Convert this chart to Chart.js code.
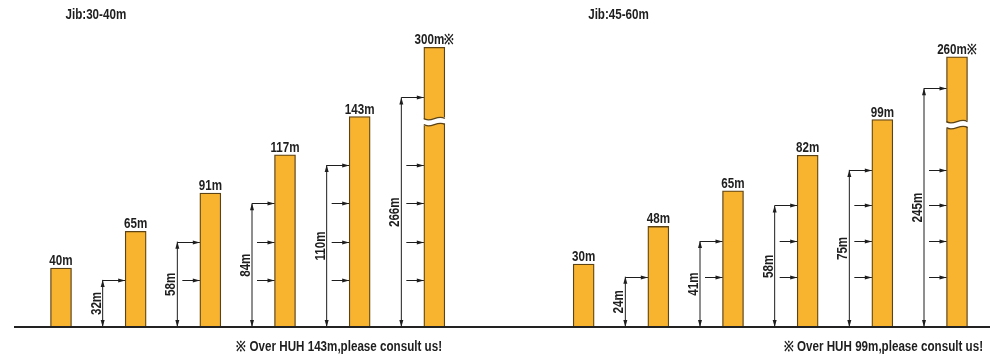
<!DOCTYPE html>
<html lang="en">
<head>
<meta charset="UTF-8">
<title>HUH por comprimento de lança</title>
<script src="https://cdn.jsdelivr.net/npm/chart.js"></script>
<style>
    body { margin: 0; background: #fff; }
    .quadro { position: relative; width: 990px; height: 357px; }
</style>
</head>
<body>
<div class="quadro"><canvas id="grafico"></canvas></div>

<script>
// altura sob o gancho (HUH) de cada configuração, em metros
const jibs = ['Jib:30-40m', 'Jib:45-60m'];
const huh30 = [40, 65, 91, 117, 143, 300];
const huh45 = [30, 48, 65, 82, 99, 260];
// cotas marcadas ao lado de cada torre
const cota30 = [32, 58, 84, 110, 266];
const cota45 = [24, 41, 58, 75, 245];
// acima disso: consultar
const limites = [143, 99];
const notas = ['※ Over HUH 143m,please consult us!', '※ Over HUH 99m,please consult us!'];

// trecho do eixo que fica escondido (quebra da barra alta)
const quebras = { yL: [143, 253], yR: [99, 230] };

const corBarra = '#F9B42F';
const corBorda = '#5b4316';
const corTexto = '#1e1e1e';
const fonte = '"Liberation Sans", Arial, sans-serif';
const estreito = 0.83; // a fonte do original é condensada

class EscalaQuebrada extends Chart.LinearScale {
    comprime(v) {
        const q = quebras[this.id];
        if (v <= q[0]) return v;
        if (v <= q[1]) return q[0];
        return v - (q[1] - q[0]);
    }
    getPixelForValue(v) {
        if (v === null || v === undefined) return NaN;
        return super.getPixelForValue(this.comprime(v));
    }
}
EscalaQuebrada.id = 'quebrada';
EscalaQuebrada.defaults = Chart.LinearScale.defaults;
Chart.register(EscalaQuebrada);

const vazio30 = new Array(huh45.length + 1).fill(null);
const vazio45 = new Array(huh30.length + 1).fill(null);
const rotulos = [...huh30.map(v => v + 'm'), '', ...huh45.map(v => v + 'm')];

function texto(ctx, s, x, y, tam, alinha, base, giro) {
    ctx.save();
    ctx.translate(x, y);
    if (giro) ctx.rotate(giro);
    ctx.scale(estreito, 1);
    ctx.font = 'bold ' + tam + 'px ' + fonte;
    ctx.fillStyle = corTexto;
    ctx.textAlign = alinha;
    ctx.textBaseline = base;
    ctx.fillText(s, 0, 0);
    ctx.restore();
}

function seta(ctx, x, y, dir) {
    ctx.beginPath();
    if (dir === 'dir') { ctx.moveTo(x, y); ctx.lineTo(x - 7, y - 2); ctx.lineTo(x - 7, y + 2); }
    if (dir === 'cima') { ctx.moveTo(x, y); ctx.lineTo(x - 2, y + 7); ctx.lineTo(x + 2, y + 7); }
    if (dir === 'baixo') { ctx.moveTo(x, y); ctx.lineTo(x - 2, y - 7); ctx.lineTo(x + 2, y - 7); }
    ctx.closePath();
    ctx.fill();
}

function linha(ctx, x1, y1, x2, y2) {
    ctx.beginPath();
    ctx.moveTo(x1, y1);
    ctx.lineTo(x2, y2);
    ctx.stroke();
}

function onda(ctx, l, r, y, a, inverte) {
    const w = r - l;
    if (!inverte) {
        ctx.moveTo(l, y);
        ctx.bezierCurveTo(l + w / 3, y + a, l + 2 * w / 3, y - a, r, y);
    } else {
        ctx.lineTo(r, y);
        ctx.bezierCurveTo(l + 2 * w / 3, y - a, l + w / 3, y + a, l, y);
    }
}

function quebraBarra(ctx, l, r, yc) {
    ctx.save();
    ctx.fillStyle = '#fff';
    ctx.beginPath();
    onda(ctx, l - 2, r + 2, yc - 3, 5, false);
    onda(ctx, l - 2, r + 2, yc + 3, 5, true);
    ctx.closePath();
    ctx.fill();
    ctx.strokeStyle = corBorda;
    ctx.lineWidth = 1.3;
    ctx.beginPath();
    onda(ctx, l, r, yc - 3, 5, false);
    ctx.stroke();
    ctx.beginPath();
    onda(ctx, l, r, yc + 3, 5, false);
    ctx.stroke();
    ctx.restore();
}

const desenho = {
    id: 'desenho',
    afterDatasetsDraw(chart) {
        const ctx = chart.ctx;
        const paineis = [
            { valores: huh30, cotas: cota30, limite: limites[0], meta: chart.getDatasetMeta(0), y: chart.scales.yL, ini: 0 },
            { valores: huh45, cotas: cota45, limite: limites[1], meta: chart.getDatasetMeta(1), y: chart.scales.yR, ini: huh30.length + 1 }
        ];
        const chao = chart.scales.yL.getPixelForValue(0);

        ctx.save();
        ctx.fillStyle = corTexto;
        paineis.forEach((p, k) => {
            p.valores.forEach((v, i) => {
                const barra = p.meta.data[p.ini + i];
                const esq = barra.x - barra.width / 2;
                const q = quebras[p.y.id];
                if (v > q[0]) quebraBarra(ctx, esq, esq + barra.width, p.y.getPixelForValue(q[0]) + 5);

                texto(ctx, v + 'm' + (v > p.limite ? '※' : ''), barra.x, barra.y - 3, 14, 'center', 'alphabetic');

                if (i === 0) return;
                const niveis = p.cotas.slice(0, i);
                const topo = p.y.getPixelForValue(niveis[i - 1]);
                const lx = esq - 22.5;

                ctx.strokeStyle = corTexto;
                ctx.fillStyle = corTexto;
                ctx.lineWidth = 1;
                linha(ctx, lx, chao, lx, topo);
                seta(ctx, lx, topo, 'cima');
                seta(ctx, lx, chao, 'baixo');
                niveis.forEach((d, j) => {
                    const yy = Math.round(p.y.getPixelForValue(d)) + 0.5;
                    const x1 = j === i - 1 ? lx : lx + 5;
                    linha(ctx, x1, yy, esq, yy);
                    seta(ctx, esq, yy, 'dir');
                });

                texto(ctx, niveis[i - 1] + 'm', lx - 2, (chao + topo) / 2, 14, 'center', 'alphabetic', -Math.PI / 2);
            });

            const primeira = p.meta.data[p.ini];
            texto(ctx, jibs[k], primeira.x - primeira.width / 2 + 15, 15, 14, 'left', 'middle');
        });

        // linha do chão
        ctx.strokeStyle = '#222';
        ctx.lineWidth = 2;
        linha(ctx, 14, chao, chart.width, chao);

        texto(ctx, notas[0], 442, 347, 14, 'right', 'middle');
        texto(ctx, notas[1], 983, 347, 14, 'right', 'middle');
        ctx.restore();
    }
};

const estiloBarra = {
    backgroundColor: corBarra,
    borderColor: corBorda,
    borderWidth: 1.3,
    barThickness: 21,
    grouped: false,
    clip: false
};

const config = {
    type: 'bar',
    data: {
        labels: rotulos,
        datasets: [{
            data: [...huh30, ...vazio30],
            yAxisID: 'yL',
            ...estiloBarra
        }, {
            data: [...vazio45, ...huh45],
            yAxisID: 'yR',
            ...estiloBarra
        }]
    },
    options: {
        responsive: true,
        maintainAspectRatio: false,
        animation: false,
        layout: { padding: { left: 61, right: 33, top: 40, bottom: 30 } },
        scales: {
            x: { type: 'category', display: false, offset: false },
            yL: { type: 'quebrada', display: false, min: 0, max: 195 },
            yR: { type: 'quebrada', display: false, min: 0, max: 137 }
        },
        plugins: {
            legend: { display: false },
            tooltip: { enabled: false }
        }
    },
    plugins: [desenho]
};

const grafico = new Chart(document.getElementById('grafico'), config);
</script>
</body>
</html>
